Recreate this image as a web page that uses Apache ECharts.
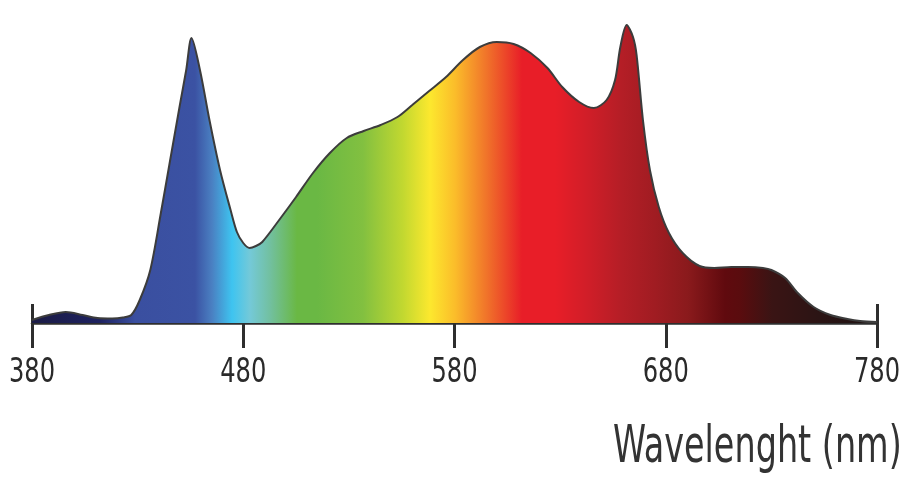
<!DOCTYPE html>
<html>
<head>
<meta charset="utf-8">
<script src="https://cdn.jsdelivr.net/npm/echarts@6/dist/echarts.min.js"></script>
<style>
html,body{margin:0;padding:0;background:#fff;}
#chart{width:900px;height:500px;}
</style>
</head>
<body>
<div id="chart"></div>
<script>
// Wavelength (nm) and relative intensity
var wavelengths = [380,388,396,404,411,418,423,427,431,436,441,445,450,453,455.5,459.5,464,469,474,477,480,483,486,489,497,505,513,521,529,537,545,553,560,568,576,584,592,600,608,616,624,631,639,646,652,656,658.5,661.5,664.5,666.2,669.2,672.5,676.7,681.5,688,696,703,711,719,726,730,736.5,742.5,750,758,766,772,780];
var intensity   = [3,8,11,8,5,4.5,5.5,8,23,53,110,158,218,253,285,253,203,153,113,91,80,75,77,81,103,126,150,170,185,192,198,206,218,232,246,263,276,281,279,270,255,236,221,215,223,243,276,298,286,268,203,153,116,90,70,57,55,56,56,55,53,45,30,16,8,4,2,1];
var tickValues = [380,480,580,680,780];
var axisTitle = 'Wavelenght (nm)';

var data = wavelengths.map(function(w,i){return [w,intensity[i]];});
var FONT = '"DejaVu Sans Condensed","Liberation Sans Narrow",sans-serif';

function off(px){return (px-32)/845;}
var stops = [
  [32,'#1b1b45'],[100,'#1e2260'],[135,'#3a4fa0'],[195,'#3b52a3'],[212,'#4a80c2'],
  [232,'#3ec4f0'],[250,'#74c9d8'],[270,'#72c0a0'],[297,'#6ab844'],[317,'#6ab844'],
  [363,'#82c040'],[403,'#c2d830'],[430,'#fce82e'],[455,'#fbbd2a'],[488,'#f0702a'],
  [522,'#e81e28'],[555,'#e81e28'],[588,'#d01e28'],[622,'#b41e26'],[655,'#a01c22'],
  [688,'#8a1a1c'],[725,'#600a0e'],[740,'#5a0c0e'],[772,'#3a1414'],[822,'#2a1414'],[877,'#1e1212']
].map(function(s){return {offset:Math.max(0,Math.min(1,off(s[0]))),color:s[1]};});

var chart = echarts.init(document.getElementById('chart'));
chart.setOption({
  animation:false,
  backgroundColor:'#ffffff',
  grid:{left:32,right:23,top:23,bottom:177},
  xAxis:[{
    type:'value',min:380,max:780,interval:100,position:'bottom',
    axisLine:{show:true,lineStyle:{color:'#2e2e2e',width:2.5}},
    axisTick:{show:true,length:25,lineStyle:{color:'#2e2e2e',width:3}},
    axisLabel:{show:false},
    splitLine:{show:false}
  },{
    type:'value',min:380,max:780,position:'bottom',offset:0,
    axisLine:{show:false},
    axisTick:{show:true,inside:true,length:19,customValues:[380,780],lineStyle:{color:'#2e2e2e',width:3}},
    axisLabel:{show:false},
    splitLine:{show:false}
  }],
  yAxis:{type:'value',min:0,max:300,show:false,splitLine:{show:false}},
  series:[{
    type:'line',xAxisIndex:0,data:data,smooth:0.3,symbol:'none',
    lineStyle:{color:'#3c3c3c',width:2},
    areaStyle:{opacity:1,color:new echarts.graphic.LinearGradient(0,0,1,0,stops)},
    z:1
  }]
});

// Tick labels and axis title, placed with the axis scale, narrowed to the condensed face of the original
var baseY = chart.convertToPixel({yAxisIndex:0},0);
var els = tickValues.map(function(v){
  return {type:'text',x:chart.convertToPixel({xAxisIndex:0},v),y:baseY+50,scaleX:0.79,originX:0,originY:0,
    style:{text:String(v),x:0,y:0,align:'center',verticalAlign:'middle',fill:'#2a2a2a',font:'normal 34px '+FONT}};
});
els.push({type:'text',x:613,y:448,scaleX:0.715,originX:0,originY:0,
  style:{text:axisTitle,x:0,y:0,align:'left',verticalAlign:'middle',fill:'#333333',font:'normal 52px '+FONT}});
chart.setOption({graphic:{elements:els}});
</script>
</body>
</html>
